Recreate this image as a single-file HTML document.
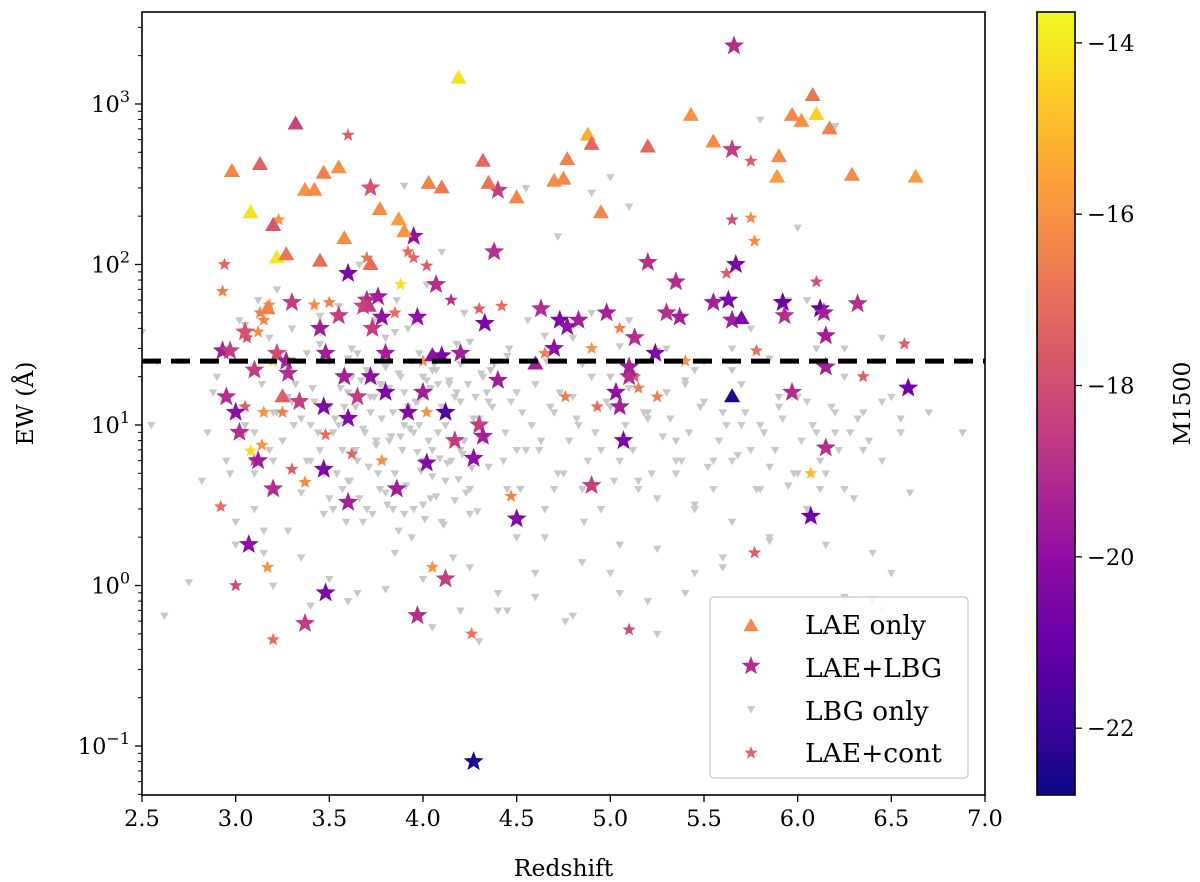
<!DOCTYPE html>
<html><head><meta charset="utf-8">
<style>
html,body{margin:0;padding:0;background:#fff;}
svg{display:block;font-family:"DejaVu Serif","Liberation Serif",serif;}
</style></head>
<body>
<svg id="chart" width="1200" height="882" viewBox="0 0 1200 882" xmlns="http://www.w3.org/2000/svg"></svg>
<script>
// ---- data ----
const xTicks = [2.5,3.0,3.5,4.0,4.5,5.0,5.5,6.0,6.5,7.0];
const xTickLabels = ["2.5","3.0","3.5","4.0","4.5","5.0","5.5","6.0","6.5","7.0"];
const yTickExps = [-1,0,1,2,3];
const cbTicks = [-14,-16,-18,-20,-22];
const cutoffEW = 25;
// LAE only: z, EW, M1500
const laeZ  = [2.98,3.08,3.13,3.2,3.22,3.25,3.27,3.32,3.37,3.42,3.47,3.45,3.55,3.58,3.77,3.87,3.9,4.03,4.1,4.19,4.32,4.35,4.5,4.7,4.75,4.77,4.88,4.9,4.95,5.2,5.43,5.55,5.65,5.7,5.97,6.02,6.08,6.1,6.17,5.9,5.89,6.29,6.63,3.72,4.6,3.71,4.05,3.17];
const laeEW = [380,210,420,175,110,15,115,750,290,290,370,105,400,145,220,190,160,320,300,1450,440,320,260,330,340,450,640,560,210,540,850,580,15,46,850,780,1130,860,700,470,350,360,350,100,24,55,27,53];
const laeM  = [-16.3,-14.2,-17.3,-17.8,-14.0,-17.5,-16.8,-18.3,-16.0,-16.2,-16.5,-17.0,-16.0,-16.2,-16.2,-15.8,-16.0,-16.4,-16.7,-14.2,-17.2,-16.8,-16.3,-16.1,-16.3,-16.5,-15.3,-17.2,-16.3,-17.2,-16.0,-16.2,-22.5,-20.5,-16.3,-16.0,-16.8,-14.5,-16.5,-16.2,-15.8,-16.2,-15.8,-17.0,-19.5,-18.5,-20.0,-16.5];
// LAE+LBG
const lbgZ  = [2.93,2.95,2.97,3.0,3.02,3.05,3.07,3.1,3.12,3.2,3.22,3.27,3.28,3.3,3.37,3.45,3.47,3.47,3.48,3.48,3.55,3.58,3.6,3.6,3.6,3.65,3.7,3.72,3.73,3.76,3.78,3.8,3.8,3.86,3.92,3.95,3.97,3.97,4.0,4.02,4.07,4.1,4.12,4.12,4.2,4.17,4.27,4.3,4.32,4.33,4.38,4.4,4.4,4.5,4.63,4.7,4.73,4.77,4.83,4.9,4.98,5.03,5.05,5.07,5.1,5.1,5.13,5.2,5.24,5.3,5.35,5.37,5.55,5.63,5.65,5.67,5.65,5.66,5.92,5.93,5.97,6.07,6.12,6.14,6.15,6.15,6.15,6.32,6.59,4.27,3.34,3.72,3.68];
const lbgEW = [29,15,29,12,9,38,1.8,22,6,4,28,25,21,58,0.58,40,13,5.3,28,0.9,48,20,11,3.3,88,15,60,20,40,63,47,16,28,4,12,150,47,0.65,16,5.8,75,27,1.1,12,28,8,6.2,10,8.5,43,120,19,290,2.6,53,30,45,41,45,4.2,50,16,13,8,20,23,35,103,28,50,78,47,58,60,45,100,520,2300,58,48,16,2.7,53,50,36,23,7.2,57,17,0.08,14,300,55];
const lbgM  = [-19.5,-19,-18.5,-20,-19,-17.8,-20,-18.5,-19.5,-19,-18,-19.5,-19,-18.5,-18.5,-19.5,-20.5,-20.5,-19.5,-20.5,-18.5,-19.5,-20.3,-19.5,-20.5,-18.5,-19,-20,-18.5,-19.5,-20,-20.5,-19.5,-19.5,-20.3,-20,-20,-19,-19.5,-20.3,-19,-20.5,-18.5,-21.5,-19.5,-18.5,-20,-18.5,-19.5,-20.5,-19,-19.5,-18.5,-20.3,-19,-20,-20.5,-20,-19.5,-18.5,-19.5,-20,-19.5,-20.5,-19,-19.5,-19,-19,-20.5,-19,-19,-19.5,-19.5,-20.5,-19.5,-20.5,-18.5,-19,-21,-19,-19,-20.8,-21.3,-19.5,-19.5,-19.5,-19,-19,-20.8,-22.5,-18.5,-17.8,-18.3];
// LAE+cont
const contZ  = [2.92,2.93,2.94,3.0,3.05,3.06,3.1,3.13,3.14,3.15,3.17,3.2,3.23,3.25,3.3,3.37,3.42,3.48,3.6,3.62,3.78,3.85,3.92,3.95,4.02,4.05,4.0,4.02,4.15,4.26,4.3,4.37,4.42,4.47,4.65,4.76,4.9,4.93,5.1,5.13,5.15,5.4,5.62,5.65,5.75,5.75,5.77,5.77,5.78,6.07,6.1,6.35,6.57,5.25,5.05,3.88,3.2,3.08,3.15,3.18,3.12,3.5,3.7];
const contEW = [3.1,68,100,1.0,13,35,6,50,7.5,12,1.3,0.46,190,12,5.3,4.4,56,8.7,640,6.6,6,50,120,110,12,1.3,25,98,60,0.5,53,120,55,3.6,28,15,30,13,0.53,20,17,25,88,190,440,195,140,1.6,29,5,78,20,32,15,40,75,25,6.9,45,56,38,58,110];
const contM  = [-17,-16.5,-17.3,-18,-17.5,-18,-18,-16.5,-16,-16,-16,-17,-16,-16.5,-17.5,-16.2,-16.2,-17,-17.5,-17.3,-16,-17,-17,-17.3,-16,-16,-16,-17.5,-19,-16.8,-17.5,-17,-17,-16.5,-16.5,-16.5,-16,-17,-18,-17.5,-16.5,-16,-17.5,-18,-17.5,-16.2,-16.2,-17.5,-17,-15,-18,-17.5,-17.5,-16.5,-16.5,-14.2,-14.3,-14.3,-16.3,-16.2,-16.2,-16.5,-16.8];
// LBG only (gray)
const grayZ  = [2.5,2.55,2.58,2.62,2.75,2.82,2.85,2.88,2.9,2.95,2.97,3.0,3.02,3.05,3.08,3.1,3.12,3.15,3.18,3.2,3.22,3.25,3.28,3.3,3.32,3.35,3.38,3.4,3.42,3.45,3.47,3.5,3.52,3.55,3.57,3.6,3.62,3.64,3.66,3.68,3.7,3.72,3.74,3.76,3.78,3.8,3.82,3.84,3.86,3.88,3.9,3.92,3.94,3.96,3.98,4.0,4.02,4.04,4.06,4.08,4.1,4.12,4.14,4.16,4.18,4.2,4.22,4.25,4.28,4.3,4.33,4.36,4.4,4.43,4.46,4.5,4.53,4.56,4.6,4.63,4.66,4.7,4.73,4.76,4.8,4.83,4.86,4.9,4.95,5.0,5.05,5.1,5.15,5.2,5.25,5.3,5.35,5.4,5.45,5.5,5.55,5.6,5.65,5.7,5.75,5.8,5.85,5.9,5.95,6.0,6.05,6.1,6.15,6.2,6.25,6.3,6.35,6.4,6.45,6.5,6.55,6.6,6.7,6.88,
 3.45,3.55,3.65,3.75,3.85,3.95,4.05,4.15,4.25,4.35,3.5,3.6,3.7,3.8,3.9,4.0,4.1,4.2,4.3,3.58,3.68,3.78,3.88,3.98,4.08,4.18,3.62,3.72,3.82,3.92,4.02,4.12,4.22,3.3,3.4,3.2,3.1,4.45,4.55,4.65,4.75,4.85,4.95,5.05,5.15,5.25,5.35,5.45,5.55,5.65,5.75,5.85,5.95,6.05,6.15,6.25,6.35,6.45,6.55,4.5,4.6,4.7,4.8,4.9,5.0,5.1,5.2,5.3,5.4,5.5,5.6,5.7,5.8,5.9,6.0,6.1,6.2,6.3,6.4,6.5,
 3.0,3.15,3.35,3.5,3.65,3.85,4.05,4.25,4.45,4.65,4.85,5.05,5.25,5.45,5.65,5.85,6.05,6.25,6.45,3.05,3.25,3.45,3.65,3.85,4.05,4.25,4.45,4.65,4.85,5.05,5.25,5.45,5.65,5.85,6.05,6.25,6.45,3.2,3.4,3.6,3.8,4.0,4.2,4.4,4.6,4.8,5.0,5.2,5.4,5.6,5.8,6.0,6.2,4.9,5.0,4.55,5.1,3.9,4.72,5.35,6.12,6.38,
 3.52,3.54,3.57,3.59,3.61,3.63,3.66,3.69,3.71,3.73,3.75,3.77,3.79,3.81,3.83,3.85,3.87,3.89,3.91,3.93,3.95,3.97,3.99,4.01,4.03,4.05,4.07,4.09,4.11,4.13,4.15,4.17,4.19,4.21,4.23,4.26,4.29,4.32,4.35,4.38,
 3.53,3.56,3.6,3.64,3.67,3.7,3.74,3.77,3.8,3.84,3.87,3.9,3.94,3.97,4.0,4.04,4.07,4.1,4.14,4.17,4.2,4.24,4.27,4.31,4.34,4.37,4.41,4.44,4.47,4.5,
 3.35,3.38,3.41,3.44,3.47,3.5,3.25,3.28,3.31,3.14,3.18,3.22,3.05,3.1,2.95,2.99,
 4.52,4.58,4.62,4.68,4.72,4.78,4.82,4.88,4.92,4.98,5.02,5.08,5.12,5.18,5.22,5.28,5.32,5.38,5.42,5.48,5.52,5.58,5.62,5.68,5.72,5.78,5.82,5.88,5.92,5.98,6.02,6.08,6.12,6.18,6.22,6.28,6.32,6.38,6.42,6.48];
const grayEW = [38,10,25,0.65,1.05,4.5,9,16,20,30,5,2.5,45,10,22,3,60,1.6,35,12,70,8,2.2,40,18,3.8,28,6,14,48,2.8,25,9,55,4,16,30,7,100,2.5,22,12,45,5,18,35,8,3,60,20,10,40,2,14,28,6,75,3.5,24,9,120,4.5,18,1.5,32,7,50,2.8,15,0.45,8,22,0.7,6,30,2,12,45,1.2,8,25,4,16,0.6,35,10,2.5,50,7,20,1.8,45,4,12,0.5,30,8,18,3,25,6,1.5,22,10,40,4,2,15,60,5,14,30,1.8,9,20,3.5,12,1.6,6,15,9,3.8,
 12,9,7,10,6,8,5,9,7,6,4,5.5,3.5,4.5,3,3.8,2.8,3.2,2.5,14,11,13,9.5,11,8.5,10,18,16,20,15,17,13,19,10,8,14,10,6,5,4,7,3,5,4,3,6,4.5,3.5,5,3.2,4,6,7,5.5,4.2,3,5,4,7,14,11,16,18,12,15,20,13,17,11,16,19,14,12,18,10,13,15,9,12,
 0.5,0.8,1.2,1.8,2.2,1.5,1.1,0.9,1.6,0.55,1.3,0.7,2,1.4,0.9,1.7,1.2,2.5,1.9,60,30,35,42,25,32,28,38,22,33,27,36,24,31,29,22,30,26,0.6,0.85,0.7,1.0,0.75,0.8,0.95,1.1,0.7,0.9,0.85,0.65,1.2,0.8,0.9,1.3,800,170,730,280,350,300,230,310,150,
 6,4,8,3,5,7,2.5,4.5,6.5,3.5,9,5.5,2.8,7.5,4,6,3.2,8.5,5,2.2,7,4.2,9.5,3,6.8,5.2,2.6,8,4.8,3.6,6.2,2.4,5.8,7.8,3.4,4.6,6.6,3.8,5.4,2.9,
 20,14,24,11,17,26,13,19,22,15,18,23,12,21,16,25,14,20,17,22,13,19,15,24,18,11,21,16,13,19,
 9,14,7,11,6,17,9,5,13,8,15,10,18,7,12,9,
 9,6,12,4,10,7,13,5,8,11,6,9,14,4.5,10,7,12,5,8.5,11,6,9,13,5.5,8,10,6.5,12,4,9,7,11,5,8,10,6,13,7,9,11];

// ---- geometry ----
const svg = document.getElementById('chart');
const NS = 'http://www.w3.org/2000/svg';
const L=142, R=985, T=12, B=795;
const X0=2.5, X1=7.0;
const Y0=-1.305, Y1=3.573;
const CB_L=1037, CB_R=1075, CM0=-22.78, CM1=-13.64;
function sx(z){return L+(z-X0)/(X1-X0)*(R-L);}
function sy(ew){const l=Math.log10(ew);return B-(l-Y0)/(Y1-Y0)*(B-T);}
function cy(m){return B-(m-CM0)/(CM1-CM0)*(B-T);}
const stops=["#0d0887","#41049d","#6a00a8","#8f0da4","#b12a90","#cc4778","#e16462","#f2844b","#fca636","#fcce25","#f0f921"];
function hex(h){return [1,3,5].map(i=>parseInt(h.substr(i,2),16));}
function cmap(m){let t=(m-CM0)/(CM1-CM0);t=Math.max(0,Math.min(1,t));const p=t*10,i=Math.min(9,Math.floor(p)),f=p-i;const a=hex(stops[i]),b=hex(stops[i+1]);return 'rgb('+a.map((v,k)=>Math.round(v+(b[k]-v)*f)).join(',')+')';}
function el(tag,attrs,parent){const e=document.createElementNS(NS,tag);for(const k in attrs)e.setAttribute(k,attrs[k]);(parent||svg).appendChild(e);return e;}
function starPts(cx,cyy,r){let p=[];for(let i=0;i<10;i++){const a=-Math.PI/2+i*Math.PI/5;const rr=i%2?r*0.42:r;p.push((cx+rr*Math.cos(a)).toFixed(1)+','+(cyy+rr*Math.sin(a)).toFixed(1));}return p.join(' ');}
function triUp(cx,cyy,s){return `${cx},${cyy-s} ${cx-s*0.95},${cyy+s*0.65} ${cx+s*0.95},${cyy+s*0.65}`;}
function triDown(cx,cyy,s){return `${cx},${cyy+s} ${cx-s*0.95},${cyy-s*0.65} ${cx+s*0.95},${cyy-s*0.65}`;}

const clip = el('clipPath',{id:'pc'}); el('rect',{x:L,y:T,width:R-L,height:B-T},clip);
const pts = el('g',{'clip-path':'url(#pc)'});



grayZ.forEach((z,i)=>{const p=el('polygon',{points:triDown(sx(z),sy(grayEW[i]),4.5),fill:'#c8c8c8'},pts);

});
contZ.forEach((z,i)=>{const p=el('polygon',{points:starPts(sx(z),sy(contEW[i]),7),fill:cmap(contM[i])},pts);

});
lbgZ.forEach((z,i)=>{const p=el('polygon',{points:starPts(sx(z),sy(lbgEW[i]),10.5),fill:cmap(lbgM[i])},pts);

});
laeZ.forEach((z,i)=>{const p=el('polygon',{points:triUp(sx(z),sy(laeEW[i]),8.5),fill:cmap(laeM[i])},pts);

});

const cl=el('line',{x1:L,x2:R,y1:sy(cutoffEW),y2:sy(cutoffEW),stroke:'#000','stroke-width':5,'stroke-dasharray':'19,10'});



const fr=el('rect',{x:L,y:T,width:R-L,height:B-T,fill:'none',stroke:'#000','stroke-width':1.6});



xTicks.forEach((v,i)=>{const x=sx(v);el('line',{x1:x,x2:x,y1:B,y2:B+7,stroke:'#000','stroke-width':1.3});
const t=el('text',{x:x,y:B+31,'text-anchor':'middle','font-size':22.5,fill:'#000'});t.textContent=xTickLabels[i];

});
for(let e=-2;e<=3;e++){for(let k=1;k<10;k++){const v=k*Math.pow(10,e);const y=sy(v);if(y<T||y>B)continue;
el('line',{x1:L-(k===1?7:4),x2:L,y1:y,y2:y,stroke:'#000','stroke-width':k===1?1.3:1});}}
yTickExps.forEach(e=>{const y=sy(Math.pow(10,e));const t=el('text',{x:L-12,y:y+8,'text-anchor':'end','font-size':22.5,fill:'#000'});
t.innerHTML='10<tspan dy="-10" font-size="16">'+(e<0?'\u2212'+(-e):e)+'</tspan>';

});

const xt=el('text',{x:(L+R)/2,y:876,'text-anchor':'middle','font-size':23.5,fill:'#000'});xt.textContent='Redshift';


const yt=el('text',{x:0,y:0,'text-anchor':'middle','font-size':23.5,fill:'#000',transform:`translate(33,${(T+B)/2}) rotate(-90)`});yt.textContent='EW (Å)';



const lg=el('g',{});


el('rect',{x:710,y:597,width:258,height:181,rx:4,fill:'#fff','fill-opacity':0.85,stroke:'#d0d0d0','stroke-width':1.5},lg);
const legItems=[['LAE only',624],['LAE+LBG',667],['LBG only',710],['LAE+cont',752]];
el('polygon',{points:triUp(751,626,8),fill:cmap(-16.2)},lg);
el('polygon',{points:starPts(751,666,10),fill:cmap(-19)},lg);
el('polygon',{points:triDown(751,709,4.5),fill:'#c8c8c8'},lg);
el('polygon',{points:starPts(751,753,7),fill:cmap(-17.3)},lg);
legItems.forEach(([s,y])=>{const t=el('text',{x:805,y:y+10,'font-size':26.5,fill:'#000'},lg);t.textContent=s;

});

const defs=el('defs',{});
const gr=el('linearGradient',{id:'cbg',x1:0,y1:1,x2:0,y2:0},defs);
stops.forEach((c,i)=>el('stop',{offset:(i/10),'stop-color':c},gr));
const cb=el('rect',{x:CB_L,y:T,width:CB_R-CB_L,height:B-T,fill:'url(#cbg)',stroke:'#000','stroke-width':1.6});


cbTicks.forEach(v=>{const y=cy(v);el('line',{x1:CB_R,x2:CB_R+7,y1:y,y2:y,stroke:'#000','stroke-width':1.3});
const t=el('text',{x:CB_R+12,y:y+8,'font-size':22.5,fill:'#000'});t.textContent='\u2212'+(-v);

});
const ct=el('text',{x:0,y:0,'text-anchor':'middle','font-size':23.5,fill:'#000',transform:`translate(1190,${(T+B)/2}) rotate(-90)`});ct.textContent='M1500';


</script>
</body></html>
